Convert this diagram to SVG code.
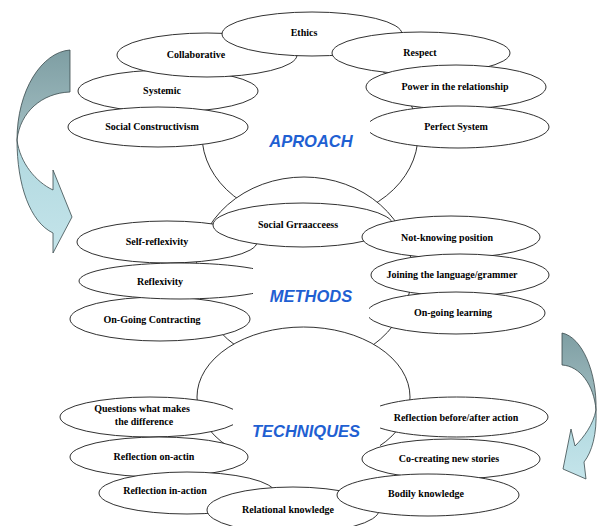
<svg xmlns="http://www.w3.org/2000/svg" width="599" height="526" viewBox="0 0 599 526">
<style>
.big{fill:#fff;stroke:#1a1a1a;stroke-width:0.9}
.n ellipse{fill:#fff;stroke:#1a1a1a;stroke-width:0.9}
.t{font-family:"Liberation Serif","Times New Roman",serif;font-weight:bold;font-size:10px;text-anchor:middle;fill:#000}
.h{font-family:"Liberation Sans",Arial,sans-serif;font-style:italic;font-weight:bold;font-size:16.5px;fill:#1f60d2;text-anchor:middle}
.box{fill:#fff;stroke:none}
.dark{stroke:#3a4a4c;stroke-width:0.8}
.light{stroke:#3a4a4c;stroke-width:0.8}
</style>
<defs>
<linearGradient id="gd" x1="0" y1="0" x2="0" y2="1">
<stop offset="0" stop-color="#7e9ea3"/><stop offset="1" stop-color="#a3bfc3"/>
</linearGradient>
<linearGradient id="gl" x1="0" y1="0" x2="0" y2="1">
<stop offset="0" stop-color="#b0d8df"/><stop offset="1" stop-color="#c4e4ea"/>
</linearGradient>
</defs>
<rect width="599" height="526" fill="#fff"/>

<g id="frames">
<ellipse id="approach-frame" class="big" cx="310" cy="135" rx="108" ry="86"/>
<ellipse id="methods-frame" class="big" cx="304" cy="272" rx="108" ry="95"/>
<ellipse id="techniques-frame" class="big" cx="303.5" cy="397" rx="106.5" ry="70"/>
</g>

<g id="approach-nodes" class="n">
<g id="systemic"><ellipse cx="168" cy="91" rx="90" ry="21"/><text class="t" x="162" y="94">Systemic</text></g>
<g id="social-constructivism"><ellipse cx="158" cy="127" rx="90" ry="20"/><text class="t" x="152" y="130">Social Constructivism</text></g>
<g id="collaborative"><ellipse cx="207" cy="55" rx="90" ry="22"/><text class="t" x="196" y="58">Collaborative</text></g>
<g id="ethics"><ellipse cx="312" cy="34" rx="90" ry="22"/><text class="t" x="304" y="36">Ethics</text></g>
<g id="respect"><ellipse cx="421" cy="53" rx="89" ry="21"/><text class="t" x="420" y="56">Respect</text></g>
<g id="power"><ellipse cx="456" cy="87" rx="90" ry="22"/><text class="t" x="455" y="90">Power in the relationship</text></g>
<g id="perfect-system"><ellipse cx="458" cy="127" rx="91" ry="21"/><text class="t" x="456" y="130">Perfect System</text></g>
</g>
<g id="approach-title"><rect class="box" x="250" y="112" width="120" height="46"/><text class="h" x="311" y="147">APROACH</text></g>

<g id="methods-nodes" class="n">
<g id="self-reflexivity"><ellipse cx="167" cy="242" rx="90" ry="21"/><text class="t" x="157" y="245">Self-reflexivity</text></g>
<g id="social-grraacceess"><ellipse cx="303" cy="225" rx="90" ry="22"/><text class="t" x="298" y="228">Social Grraacceess</text></g>
<g id="not-knowing"><ellipse cx="451" cy="237" rx="89" ry="21"/><text class="t" x="447" y="241">Not-knowing position</text></g>
<g id="joining"><ellipse cx="460" cy="275" rx="89" ry="21"/><text class="t" x="452" y="278">Joining the language/grammer</text></g>
<g id="on-going-learning"><ellipse cx="456" cy="313" rx="89" ry="21"/><text class="t" x="453" y="316">On-going learning</text></g>
<g id="on-going-contracting"><ellipse cx="160" cy="319" rx="90" ry="22"/><text class="t" x="152" y="323">On-Going Contracting</text></g>
<g id="reflexivity"><ellipse cx="180" cy="281" rx="101" ry="18"/><text class="t" x="160" y="285">Reflexivity</text></g>
</g>
<g id="methods-title"><rect class="box" x="253" y="262" width="116" height="57"/><text class="h" x="311" y="302">METHODS</text></g>

<g id="techniques-nodes-back" class="n">
<g id="questions"><ellipse cx="150" cy="417" rx="90" ry="20"/><text class="t" x="142" y="412">Questions what makes</text><text class="t" x="144" y="425">the difference</text></g>
<g id="reflection-before-after"><ellipse cx="456.5" cy="417" rx="91.5" ry="20"/><text class="t" x="456" y="421">Reflection before/after action</text></g>
</g>
<g id="techniques-title"><rect class="box" x="233" y="399" width="147" height="71"/><text class="h" x="306" y="437">TECHNIQUES</text></g>
<g id="techniques-nodes" class="n">
<g id="reflection-on-actin"><ellipse cx="159" cy="457" rx="89" ry="20"/><text class="t" x="154" y="460">Reflection on-actin</text></g>
<g id="co-creating"><ellipse cx="451" cy="459" rx="89" ry="20"/><text class="t" x="449" y="462">Co-creating new stories</text></g>
<g id="reflection-in-action"><ellipse cx="187" cy="493" rx="88" ry="21"/><text class="t" x="165" y="494">Reflection in-action</text></g>
<g id="relational-knowledge"><ellipse cx="293" cy="510" rx="86" ry="23"/><text class="t" x="288" y="513">Relational knowledge</text></g>
<g id="bodily-knowledge"><ellipse cx="428" cy="495" rx="91" ry="21"/><text class="t" x="426" y="497">Bodily knowledge</text></g>
</g>

<g id="connectors">
<g id="arrow-left">
<path class="dark" fill="url(#gd)" d="M70,50 C42,52 17,90 17,140 C20,112 42,93 70,92 Z"/>
<path class="light" fill="url(#gl)" d="M17,140 C17,185 30,222 53,233 L53,253 L72,217 L53,170 L53,190 C36,182 20,163 17,140 Z"/>
</g>
<g id="arrow-right">
<path class="dark" fill="url(#gd)" d="M562,333 C582,337 597,372 596,410 C594,385 580,366 562,365 Z"/>
<path class="light" fill="url(#gl)" d="M596,410 C597,434 592,452 584,462 L586,479 L563,469 L571,429 L575,446 C584,437 593,425 596,410 Z"/>
</g>
</g>
</svg>
